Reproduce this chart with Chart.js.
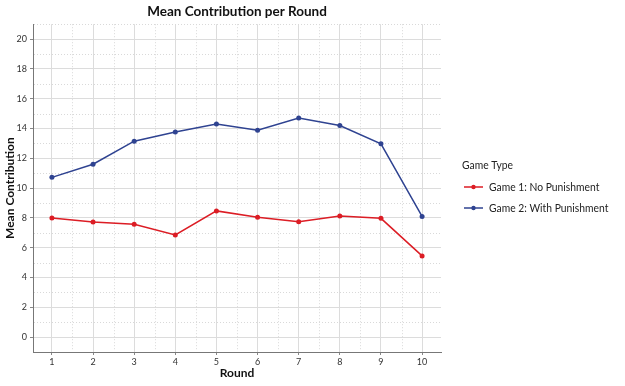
<!DOCTYPE html>
<html>
<head>
<meta charset="utf-8">
<script src="https://cdn.jsdelivr.net/npm/chart.js@4.4.1/dist/chart.umd.min.js"></script>
<style>
  html, body { margin: 0; padding: 0; background: #fff; }
  #wrap { width: 625px; height: 386px; }
</style>
</head>
<body>
<div id="wrap"><canvas id="chart"></canvas></div>
<script>
// ---- data ----
const rounds = [1, 2, 3, 4, 5, 6, 7, 8, 9, 10];
const noPunishment = [7.99, 7.72, 7.58, 6.86, 8.47, 8.05, 7.75, 8.12, 7.97, 5.45];
const withPunishment = [10.72, 11.6, 13.15, 13.76, 14.3, 13.88, 14.7, 14.2, 12.97, 8.1];
const seriesNames = ['Game 1: No Punishment', 'Game 2: With Punishment'];
const yTicks = [0, 2, 4, 6, 8, 10, 12, 14, 16, 18, 20];
const xMinor = [1.5, 2.5, 3.5, 4.5, 5.5, 6.5, 7.5, 8.5, 9.5];
const yMinor = [1, 3, 5, 7, 9, 11, 13, 15, 17, 19, 21];

const RED = '#dc1d25';
const BLUE = '#2f4391';
const FONT = 'Lato';

// dotted minor grid lines, drawn through the scales
const minorGrid = {
    id: 'minorGrid',
    beforeDatasetsDraw(chart) {
        const { ctx, chartArea: a, scales: { x, y } } = chart;
        ctx.save();
        ctx.strokeStyle = '#d9d9d9';
        ctx.lineWidth = 1;
        ctx.setLineDash([1, 2]);
        xMinor.forEach(v => {
            const px = Math.round(x.getPixelForValue(v)) + 0.5;
            ctx.beginPath(); ctx.moveTo(px, a.top); ctx.lineTo(px, a.bottom - 1); ctx.stroke();
        });
        yMinor.forEach(v => {
            const py = Math.round(y.getPixelForValue(v)) + 0.5;
            ctx.beginPath(); ctx.moveTo(a.left + 1, py); ctx.lineTo(a.right, py); ctx.stroke();
        });
        ctx.restore();
    }
};

// legend on the right with a line + dot key (text squeezed a bit, the source font is narrow)
const sideLegend = {
    id: 'sideLegend',
    afterDraw(chart) {
        const { ctx, chartArea: a } = chart;
        const x0 = a.right + 21;
        const squeeze = 0.86;
        const text = (s, x, y) => {
            ctx.save();
            ctx.translate(x, y);
            ctx.scale(squeeze, 1);
            ctx.fillText(s, 0, 0);
            ctx.restore();
        };
        ctx.save();
        ctx.fillStyle = '#222';
        ctx.font = '12px ' + FONT;
        ctx.textBaseline = 'middle';
        text('Game Type', x0, 165);
        chart.data.datasets.forEach((ds, i) => {
            const cy = 187 + i * 21;
            ctx.strokeStyle = ds.borderColor;
            ctx.lineWidth = 1.5;
            ctx.beginPath(); ctx.moveTo(x0 + 2, cy); ctx.lineTo(x0 + 21, cy); ctx.stroke();
            ctx.fillStyle = ds.borderColor;
            ctx.beginPath(); ctx.arc(x0 + 11.5, cy, 2.2, 0, Math.PI * 2); ctx.fill();
            ctx.fillStyle = '#222';
            text(ds.label, x0 + 27, cy);
        });
        ctx.restore();
    }
};

const toPoints = vals => vals.map((v, i) => ({ x: rounds[i], y: v }));

new Chart(document.getElementById('chart'), {
    type: 'line',
    data: {
        datasets: [
            { label: seriesNames[0], data: toPoints(noPunishment), borderColor: RED, backgroundColor: RED },
            { label: seriesNames[1], data: toPoints(withPunishment), borderColor: BLUE, backgroundColor: BLUE }
        ]
    },
    options: {
        responsive: true,
        maintainAspectRatio: false,
        animation: false,
        layout: { padding: { left: 0, right: 184, top: 0, bottom: 0 } },
        elements: {
            line: { borderWidth: 1.5, tension: 0 },
            point: { radius: 2.5, borderWidth: 0, hoverRadius: 3 }
        },
        plugins: {
            legend: { display: false },
            tooltip: { enabled: false },
            title: {
                display: true,
                fullSize: false,
                text: 'Mean Contribution per Round',
                color: '#111',
                font: { family: FONT, size: 13.5, weight: 'bold' },
                padding: { top: 4, bottom: 4 }
            }
        },
        scales: {
            x: {
                type: 'linear',
                min: 0.54,
                max: 10.46,
                afterBuildTicks: s => { s.ticks = rounds.map(v => ({ value: v })); },
                afterFit: s => { s.height = 34; },
                grid: { color: '#dcdcdc', tickColor: '#888', tickLength: 3 },
                border: { color: '#777', width: 1 },
                ticks: { color: '#333', font: { family: FONT, size: 9 }, padding: 2, maxRotation: 0 },
                title: {
                    display: true, text: 'Round', color: '#111',
                    font: { family: FONT, size: 12, weight: 'bold' },
                    padding: { top: 0, bottom: 6 }
                }
            },
            y: {
                min: -1,
                max: 21,
                afterBuildTicks: s => { s.ticks = yTicks.map(v => ({ value: v })); },
                afterFit: s => { s.width = 33; },
                grid: { color: '#dcdcdc', tickColor: '#888', tickLength: 3 },
                border: { color: '#777', width: 1 },
                ticks: { color: '#333', font: { family: FONT, size: 9 }, padding: 3 },
                title: {
                    display: true, text: 'Mean Contribution', color: '#111',
                    font: { family: FONT, size: 12, weight: 'bold' },
                    padding: { top: 3, bottom: 0 }
                }
            }
        }
    },
    plugins: [minorGrid, sideLegend]
});
</script>
</body>
</html>
